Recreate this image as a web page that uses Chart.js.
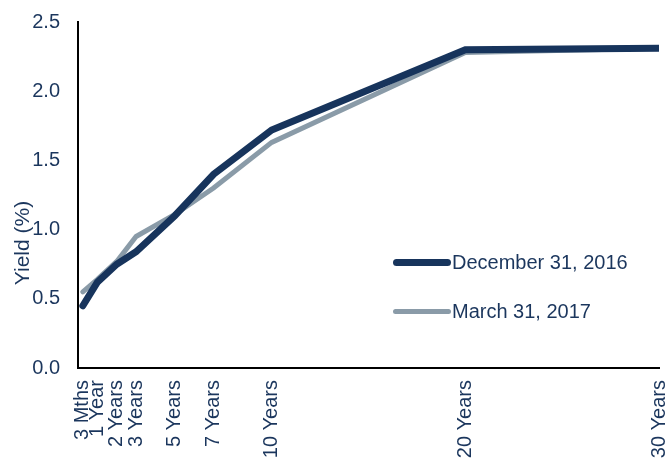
<!DOCTYPE html>
<html lang="en">
<head>
  <meta charset="UTF-8">
  <title>Yield Curve</title>
  <style>
    html, body { margin: 0; padding: 0; background: #fff; }
    #wrap { position: relative; width: 667px; height: 464px; overflow: hidden; }
    .leg { position: absolute; left: 393px; font: 20px "Liberation Sans", Arial, sans-serif; color: #1b365d; display: flex; align-items: center; white-space: nowrap; }
    .leg span.ln { display: inline-block; width: 58px; border-radius: 4px; margin-right: 1px; }
  </style>
</head>
<body>
  <div id="wrap">
    <canvas id="myChart" width="667" height="464"></canvas>
    <div class="leg" style="top:251px;"><span class="ln" style="height:7px;background:#17345c;"></span>December 31, 2016</div>
    <div class="leg" style="top:300px;"><span class="ln" style="height:5px;background:#8a9ba8;"></span>March 31, 2017</div>
  </div>

<script src="https://cdn.jsdelivr.net/npm/chart.js"></script>
<script>
  // tenor in years and their axis labels
  var tenors = [0.25, 1, 2, 3, 5, 7, 10, 20, 30];
  var tenorLabels = ['3 Mths', '1 Year', '2 Years', '3 Years', '5 Years', '7 Years', '10 Years', '20 Years', '30 Years'];
  var dec2016 = [0.45, 0.62, 0.75, 0.84, 1.10, 1.40, 1.72, 2.30, 2.31];
  var mar2017 = [0.55, 0.64, 0.77, 0.95, 1.11, 1.30, 1.63, 2.28, 2.31];
  var yTitle = 'Yield (%)';

  var navy = '#17345c';
  var grey = '#8a9ba8';
  var txt = '#1b365d';

  function pts(arr) {
    return arr.map(function (v, i) { return { x: tenors[i], y: v }; });
  }

  // y axis title sits a bit lower than the axis middle in the original
  var yTitlePlugin = {
    id: 'yTitle',
    afterDraw: function (chart) {
      var c = chart.ctx;
      c.save();
      c.translate(23, 243);
      c.rotate(-Math.PI / 2);
      c.font = '21px "Liberation Sans", Arial, sans-serif';
      c.fillStyle = txt;
      c.textAlign = 'center';
      c.textBaseline = 'middle';
      c.fillText(yTitle, 0, 0);
      c.restore();
    }
  };

  Chart.defaults.font.family = '"Liberation Sans", Arial, sans-serif';
  Chart.defaults.color = txt;

  new Chart(document.getElementById('myChart'), {
    type: 'line',
    data: {
      datasets: [
        { label: 'March 31, 2017', data: pts(mar2017), borderColor: grey, borderWidth: 5, pointRadius: 0, borderCapStyle: 'round', tension: 0, order: 2 },
        { label: 'December 31, 2016', data: pts(dec2016), borderColor: navy, borderWidth: 7, pointRadius: 0, borderCapStyle: 'round', tension: 0, order: 1 }
      ]
    },
    plugins: [yTitlePlugin],
    options: {
      responsive: false,
      animation: false,
      layout: { padding: { top: 22, right: 8 } },
      plugins: { legend: { display: false }, tooltip: { enabled: false } },
      scales: {
        x: {
          type: 'linear',
          min: 0,
          max: 30,
          grid: { display: false, drawTicks: false },
          border: { color: '#000', width: 2 },
          afterBuildTicks: function (scale) {
            scale.ticks = tenors.map(function (t) { return { value: t }; });
          },
          afterFit: function (scale) {
            scale.height = 96;
            scale.paddingRight = 0;
            scale.paddingLeft = 0;
          },
          ticks: {
            autoSkip: false,
            maxRotation: 90,
            minRotation: 90,
            padding: 12,
            font: { size: 20 },
            callback: function (v) {
              var i = tenors.indexOf(v);
              return i >= 0 ? tenorLabels[i] : '';
            }
          }
        },
        y: {
          min: 0,
          max: 2.5,
          grid: { display: false, drawTicks: false },
          border: { color: '#000', width: 2 },
          afterFit: function (scale) {
            scale.width = 78;
            scale.paddingTop = 0;
            scale.paddingBottom = 0;
          },
          ticks: {
            stepSize: 0.5,
            padding: 18,
            font: { size: 20 },
            callback: function (v) { return v.toFixed(1); }
          }
        }
      }
    }
  });
</script>
</body>
</html>
